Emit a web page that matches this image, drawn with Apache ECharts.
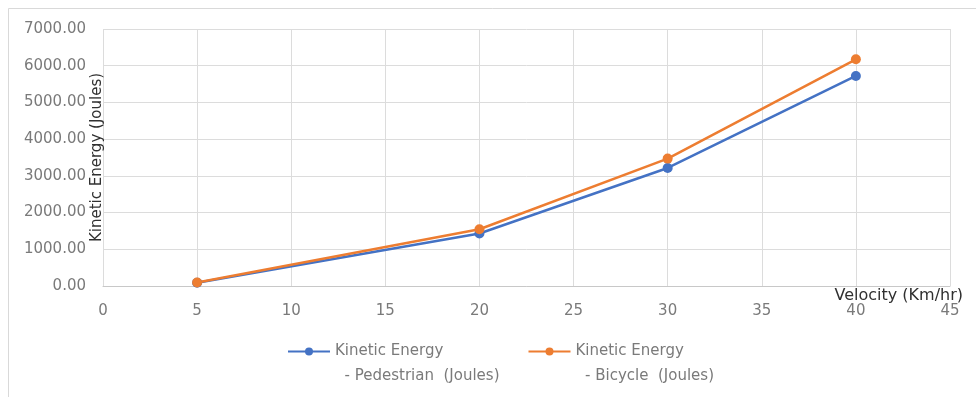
<!DOCTYPE html>
<html>
<head>
<meta charset="utf-8">
<script src="https://cdn.jsdelivr.net/npm/echarts@6/dist/echarts.min.js"></script>
<style>
html,body{margin:0;padding:0;background:#fff;}
#chart{width:976px;height:397px;}
</style>
</head>
<body>
<div id="chart"></div>
<script>
// Data
const velocities = [5, 20, 30, 40];
const pedestrianKE = [90, 1430, 3215, 5720];
const bicycleKE = [96, 1545, 3470, 6175];
const seriesNames = ['Kinetic Energy\n  - Pedestrian  (Joules)', 'Kinetic Energy\n  - Bicycle  (Joules)'];
const xTicks = {min: 0, max: 45, interval: 5};
const yTicks = {min: 0, max: 7000, interval: 1000};

const FONT = 'DejaVu Sans';
const chart = echarts.init(document.getElementById('chart'), null, {renderer: 'canvas'});

function pairs(xs, ys) { return xs.map((x, i) => [x, ys[i]]); }

chart.setOption({
  animation: false,
  backgroundColor: '#fff',
  graphic: [{
    type: 'rect', left: 6, top: 6, silent: true,
    shape: {width: 990, height: 410},
    style: {fill: 'none', stroke: '#d9d9d9', lineWidth: 1}
  }],
  grid: {left: 103, right: 26, top: 29, bottom: 111, containLabel: false, outerBoundsMode: 'none'},
  xAxis: {
    type: 'value', min: xTicks.min, max: xTicks.max, interval: xTicks.interval,
    name: 'Velocity (Km/hr)', nameLocation: 'end', nameGap: 13, nameMoveOverlap: false,
    nameTextStyle: {fontFamily: FONT, fontSize: 16, color: '#303030', align: 'right', verticalAlign: 'top', padding: [2, 0, 0, 0]},
    axisLine: {show: true, lineStyle: {color: '#c8c8c8', width: 1}},
    axisTick: {show: false},
    axisLabel: {fontFamily: FONT, fontSize: 15, color: '#7a7a7a', margin: 18},
    splitLine: {show: true, lineStyle: {color: '#dcdcdc', width: 1}}
  },
  yAxis: {
    type: 'value', min: yTicks.min, max: yTicks.max, interval: yTicks.interval,
    name: 'Kinetic Energy (Joules)', nameLocation: 'middle', nameGap: 6, nameRotate: 90, nameMoveOverlap: false,
    nameTextStyle: {fontFamily: FONT, fontSize: 15, color: '#303030', verticalAlign: 'middle'},
    axisLine: {show: false},
    axisTick: {show: false},
    axisLabel: {fontFamily: FONT, fontSize: 15, color: '#7a7a7a', margin: 17, formatter: v => v.toFixed(2)},
    splitLine: {show: true, lineStyle: {color: '#dcdcdc', width: 1}}
  },
  legend: {
    left: 287, top: 314, orient: 'horizontal', padding: 0,
    itemWidth: 42, itemHeight: 10, itemGap: 28,
    formatter: name => ' \n' + name,
    textStyle: {fontFamily: FONT, fontSize: 15, color: '#7a7a7a', lineHeight: 25},
    data: seriesNames
  },
  series: [
    {
      name: seriesNames[0], type: 'line', data: pairs(velocities, pedestrianKE),
      symbol: 'circle', symbolSize: 10,
      lineStyle: {color: '#4472C4', width: 2.5},
      itemStyle: {color: '#4472C4'}
    },
    {
      name: seriesNames[1], type: 'line', data: pairs(velocities, bicycleKE),
      symbol: 'circle', symbolSize: 10,
      lineStyle: {color: '#ED7D31', width: 2.5},
      itemStyle: {color: '#ED7D31'}
    }
  ]
});
</script>
</body>
</html>
